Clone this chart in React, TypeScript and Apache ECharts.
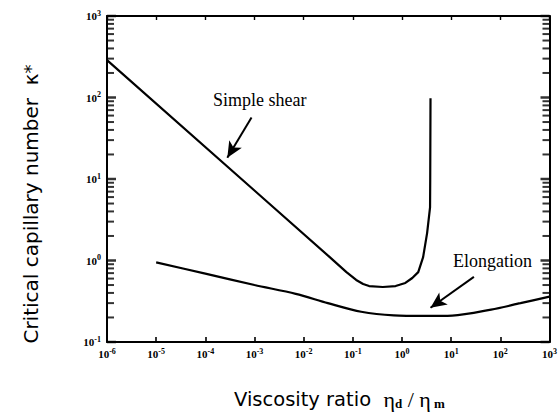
import React, { useEffect, useRef } from "react";
import * as echarts from "echarts";

// Axis ranges (log scale)
const xMin = 1e-6;
const xMax = 1e3;
const yMin = 0.1;
const yMax = 1000;

// Simple shear curve
const shearX = [1e-6, 0.0339, 0.0741, 0.117, 0.162, 0.214, 0.407, 0.741, 1.17, 1.62, 2.14, 2.69, 3.24, 3.72, 3.75, 3.8];
const shearY = [288, 1.1, 0.72, 0.577, 0.515, 0.486, 0.473, 0.486, 0.53, 0.61, 0.72, 1.1, 2.17, 4.5, 9.8, 98];

// Elongation curve
const elongX = [1e-5, 1e-4, 1e-3, 6.9e-3, 0.031, 0.148, 0.68, 3.0, 10.5, 65, 257, 1000];
const elongY = [0.95, 0.69, 0.5, 0.39, 0.3, 0.235, 0.212, 0.209, 0.211, 0.25, 0.3, 0.36];

// Tick positions on the y axes
const majorDecades = [0.1, 1, 10, 100, 1000];
const minorMultipliers = [2, 3, 4, 5, 6, 7, 8, 9];
const minorDecades = [0.1, 1, 10, 100];

// Annotation arrows (data coordinates)
const shearArrow = [[8.7e-4, 57], [2.8e-4, 18.2]];
const elongArrow = [[29, 0.63], [3.8, 0.263]];

const serif = "'Liberation Serif', 'Times New Roman', serif";
const sans = "'DejaVu Sans', Verdana, sans-serif";

export default function App() {
  const ref = useRef<HTMLDivElement>(null);

  useEffect(() => {
    if (!ref.current) return;
    const chart = echarts.init(ref.current, null, { renderer: "svg" });

    const minorVals: number[] = [];
    minorDecades.forEach((d) => minorMultipliers.forEach((m) => minorVals.push(d * m)));

    const labelFmt = (value: number) => {
      const e = Math.round(Math.log10(value));
      return `{b|10}{s|${e}}`;
    };
    const tickRich = {
      b: { fontFamily: serif, fontWeight: "bold", fontSize: 11, color: "#000", lineHeight: 14 },
      s: { fontFamily: serif, fontWeight: "bold", fontSize: 8, color: "#000", verticalAlign: "top", lineHeight: 9 },
    };

    const axisLine = { show: true, lineStyle: { color: "#000", width: 2 } };

    const tickSeries = (x: number, vals: number[], len: number, dir: number, w: number) => ({
      type: "scatter",
      clip: false,
      silent: true,
      symbol: "rect",
      symbolSize: [len, w],
      symbolOffset: [(dir * len) / 2, 0],
      itemStyle: { color: "#000" },
      data: vals.map((v) => [x, v]),
    });

    chart.setOption({
      animation: false,
      backgroundColor: "#fff",
      grid: { left: 107, right: 4, top: 16, bottom: 70, containLabel: false },
      xAxis: [
        {
          type: "log",
          logBase: 10,
          min: xMin,
          max: xMax,
          interval: 1,
          position: "bottom",
          axisLine,
          axisTick: { show: true, inside: true, length: 5, lineStyle: { color: "#000", width: 1.6 } },
          axisLabel: { formatter: labelFmt, rich: tickRich, margin: 5, showMaxLabel: true, showMinLabel: true },
          splitLine: { show: false },
        },
        {
          type: "log",
          logBase: 10,
          min: xMin,
          max: xMax,
          interval: 1,
          position: "top",
          axisLine,
          axisTick: { show: true, inside: true, length: 4, lineStyle: { color: "#000", width: 1.4 } },
          axisLabel: { show: false },
          splitLine: { show: false },
        },
      ],
      yAxis: [
        {
          type: "log",
          logBase: 10,
          min: yMin,
          max: yMax,
          interval: 1,
          position: "left",
          axisLine,
          axisTick: { show: false },
          axisLabel: { formatter: labelFmt, rich: tickRich, margin: 6, showMaxLabel: true, showMinLabel: true },
          splitLine: { show: false },
        },
        {
          type: "log",
          logBase: 10,
          min: yMin,
          max: yMax,
          interval: 1,
          position: "right",
          axisLine,
          axisTick: { show: false },
          axisLabel: { show: false },
          splitLine: { show: false },
        },
      ],
      series: [
        {
          name: "Simple shear",
          type: "line",
          data: shearX.map((x, i) => [x, shearY[i]]),
          showSymbol: false,
          smooth: false,
          lineStyle: { color: "#000", width: 2.2, join: "round" },
          markLine: {
            silent: true,
            symbol: ["none", "arrow"],
            symbolSize: [11, 16],
            label: { show: false },
            lineStyle: { color: "#000", width: 2, type: "solid" },
            data: [[{ coord: shearArrow[0] }, { coord: shearArrow[1] }]],
          },
        },
        {
          name: "Elongation",
          type: "line",
          data: elongX.map((x, i) => [x, elongY[i]]),
          showSymbol: false,
          smooth: 0.3,
          lineStyle: { color: "#000", width: 2.2 },
          markLine: {
            silent: true,
            symbol: ["none", "arrow"],
            symbolSize: [11, 16],
            label: { show: false },
            lineStyle: { color: "#000", width: 2, type: "solid" },
            data: [[{ coord: elongArrow[0] }, { coord: elongArrow[1] }]],
          },
        },
        tickSeries(xMin, minorVals, 7, 1, 2),
        tickSeries(xMax, minorVals, 7, -1, 2),
        tickSeries(xMin, majorDecades, 9, 1, 2.5),
        tickSeries(xMax, majorDecades, 9, -1, 2.5),
      ],
      graphic: [
        {
          type: "text",
          x: 213,
          y: 100,
          style: { text: "Simple shear", font: `18px ${serif}`, fill: "#000", align: "left", verticalAlign: "middle" },
        },
        {
          type: "text",
          x: 453,
          y: 261,
          style: { text: "Elongation", font: `18px ${serif}`, fill: "#000", align: "left", verticalAlign: "middle" },
        },
        {
          type: "text",
          x: 31,
          y: 204,
          rotation: Math.PI / 2,
          style: {
            text: "Critical capillary number  {k|κ}{sup|*}",
            font: `20px ${sans}`,
            fill: "#000",
            align: "center",
            verticalAlign: "middle",
            rich: {
              k: { fontFamily: sans, fontSize: 20, fill: "#000" },
              sup: { fontFamily: sans, fontSize: 18, fill: "#000", verticalAlign: "top", lineHeight: 10 },
            },
          },
        },
        {
          type: "text",
          x: 234,
          y: 399,
          style: {
            text: "Viscosity ratio  {g|η}{sub|d}{g| / η}{sub| m}",
            font: `19.5px ${sans}`,
            fill: "#000",
            align: "left",
            verticalAlign: "middle",
            rich: {
              g: { fontFamily: serif, fontSize: 22, fill: "#000" },
              sub: { fontFamily: serif, fontSize: 13, fontWeight: "bold", fill: "#000", verticalAlign: "bottom", lineHeight: 14 },
            },
          },
        },
      ],
    });

    return () => chart.dispose();
  }, []);

  return (
    <div
      ref={ref}
      style={{ position: "absolute", left: 0, top: 0, width: 560, height: 412, background: "#fff" }}
    />
  );
}
